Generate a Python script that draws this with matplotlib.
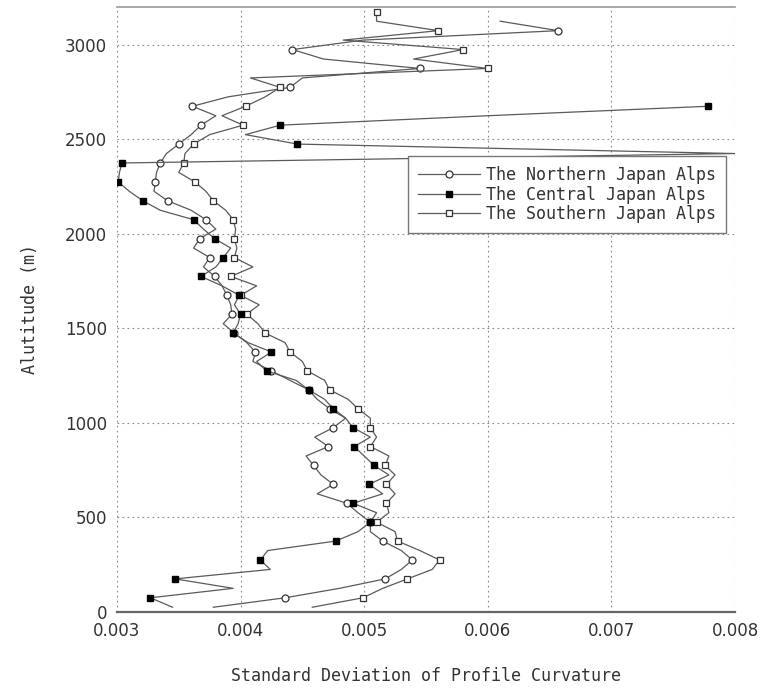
import numpy as np
import matplotlib
matplotlib.use('Agg')
import matplotlib.pyplot as plt

# altitude bins (m), 50 m steps; markers every second bin
alt_north = np.arange(25, 3150, 50)
alt_central = np.arange(25, 2700, 50)
alt_south = np.arange(25, 3200, 50)

# standard deviation of profile curvature (x 1e-3)
sd_north = [3.78, 4.36, 4.80, 5.17, 5.30, 5.39, 5.30, 5.15, 5.05, 5.05,
            4.95, 4.86, 4.62, 4.75, 4.65, 4.59, 4.53, 4.71, 4.60, 4.75,
            4.85, 4.72, 4.62, 4.55, 4.40, 4.25, 4.10, 4.12, 4.05, 3.95,
            3.86, 3.93, 3.92, 3.89, 3.85, 3.79, 3.70, 3.75, 3.62, 3.67,
            3.80, 3.72, 3.60, 3.41, 3.30, 3.31, 3.32, 3.35, 3.40, 3.50,
            3.60, 3.68, 3.80, 3.61, 3.90, 4.40, 4.50, 5.45, 4.67, 4.42,
            4.99, 6.57, 6.10]

sd_central = [3.45, 3.27, 3.94, 3.47, 4.24, 4.16, 4.22, 4.77, 4.95, 5.05,
              5.10, 4.91, 5.15, 5.04, 5.20, 5.08, 5.00, 4.92, 5.05, 4.91,
              4.85, 4.75, 4.68, 4.55, 4.45, 4.21, 4.13, 4.25, 4.06, 3.94,
              3.98, 4.00, 3.95, 3.99, 3.85, 3.68, 3.80, 3.86, 3.92, 3.79,
              3.70, 3.62, 3.35, 3.21, 3.10, 3.01, 3.02, 3.04, 8.00, 4.46,
              4.04, 4.32, 6.00, 7.78]

sd_south = [4.58, 4.99, 5.15, 5.35, 5.55, 5.61, 5.45, 5.27, 5.25, 5.10,
            5.20, 5.18, 5.25, 5.18, 5.25, 5.17, 5.20, 5.05, 5.10, 5.05,
            5.05, 4.95, 4.87, 4.72, 4.68, 4.54, 4.50, 4.40, 4.36, 4.20,
            4.14, 4.05, 4.15, 4.00, 4.13, 3.92, 4.10, 3.95, 3.97, 3.95,
            3.96, 3.94, 3.88, 3.78, 3.72, 3.63, 3.50, 3.54, 3.55, 3.62,
            3.75, 4.02, 3.85, 4.04, 4.20, 4.32, 4.08, 6.00, 5.40, 5.80,
            4.83, 5.60, 5.10, 5.10]

x_ticks = [0.003, 0.004, 0.005, 0.006, 0.007, 0.008]
y_ticks = [0, 500, 1000, 1500, 2000, 2500, 3000]

fig = plt.figure(figsize=(7.62, 6.89), dpi=100)
ax = fig.add_axes([0.1535, 0.1118, 0.8111, 0.878])

line_kw = dict(color='#5a5a5a', linewidth=0.9, markersize=5,
               markevery=(1, 2), clip_on=True)
ax.plot(np.array(sd_north) * 1e-3, alt_north, marker='o',
        markerfacecolor='white', markeredgecolor='#333333',
        markeredgewidth=0.9, label='The Northern Japan Alps', **line_kw)
ax.plot(np.array(sd_central) * 1e-3, alt_central, marker='s',
        markerfacecolor='black', markeredgecolor='black',
        label='The Central Japan Alps', zorder=3, **line_kw)
ax.plot(np.array(sd_south) * 1e-3, alt_south, marker='s',
        markerfacecolor='white', markeredgecolor='#333333',
        markeredgewidth=0.9, label='The Southern Japan Alps', **line_kw)

ax.set_xlim(0.003, 0.008)
ax.set_ylim(0, 3200)
ax.set_xticks(x_ticks)
ax.set_xticklabels(['%.3f' % v for v in x_ticks])
ax.set_yticks(y_ticks)
ax.tick_params(length=0, labelsize=12, colors='#333333', pad=7)

ax.grid(True, color='#888888', linestyle=(0, (1.5, 3)), linewidth=0.8)
ax.set_axisbelow(True)
for side in ['left', 'right']:
    ax.spines[side].set_visible(False)
ax.spines['bottom'].set_color('#666666')
ax.spines['bottom'].set_linewidth(1.6)
ax.spines['top'].set_color('#999999')
ax.spines['top'].set_linewidth(1.2)

mono = 'DejaVu Sans Mono'
ax.set_xlabel('Standard Deviation of Profile Curvature', family=mono,
              fontsize=12, color='#333333', labelpad=20)
ax.set_ylabel('Alutitude (m)', family=mono, fontsize=12, color='#333333',
              labelpad=19)

leg = ax.legend(loc='lower left', bbox_to_anchor=(0.471, 0.626),
                borderaxespad=0, prop={'family': mono, 'size': 12},
                handlelength=3.7, handletextpad=0.4, labelspacing=0.1,
                borderpad=0.6, fancybox=False, framealpha=1,
                edgecolor='#777777')
leg.get_frame().set_linewidth(1.0)
for t in leg.get_texts():
    t.set_color('#333333')

fig.savefig('out.png', dpi=100)
